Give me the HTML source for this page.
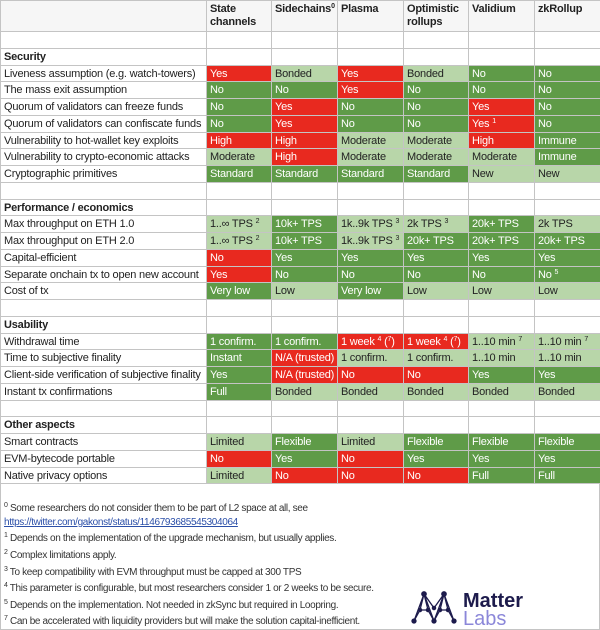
<!DOCTYPE html>
<html><head><meta charset="utf-8"><style>
*{margin:0;padding:0;box-sizing:border-box}
body{width:600px;height:630px;background:#fff;font-family:"Liberation Sans",sans-serif;font-size:11px;color:#222;overflow:hidden;position:relative}
.g{position:absolute;left:0;top:0;display:grid;grid-template-columns:205px 64px 65px 65px 64px 65px 65px;grid-template-rows:30px repeat(27,15.75px);gap:1px;background:#c4c4c4;padding:1px;width:600px}
.g div{background:#fff;padding-left:3px;line-height:16px;white-space:nowrap;overflow:hidden;letter-spacing:-0.2px}
.g .h{background:#f6f6f6;font-weight:bold;line-height:13px;padding-top:2px}
.g .s{font-weight:bold}
.g .d{background:#5f9b48;color:#fff}
.g .l{background:#b8d6a9;color:#222}
.g .r{background:#e8291f;color:#fff}
sup{font-size:7px;vertical-align:baseline;position:relative;top:-4px;line-height:0}
.f{position:absolute;left:0;top:483px;width:600px;height:147px;border:1px solid #c4c4c4;border-top:none}
.f p{position:absolute;left:3px;font-size:10px;letter-spacing:-0.35px;color:#333;white-space:nowrap}
.f a{color:#2b4fa8;text-decoration:underline}
</style></head><body>
<div class="g">
<div class="h"></div><div class="h">State<br>channels</div><div class="h">Sidechains<sup>0</sup></div><div class="h">Plasma</div><div class="h">Optimistic<br>rollups</div><div class="h">Validium</div><div class="h">zkRollup</div>
<div></div><div></div><div></div><div></div><div></div><div></div><div></div>
<div class="s">Security</div><div></div><div></div><div></div><div></div><div></div><div></div>
<div>Liveness assumption (e.g. watch-towers)</div><div class="r">Yes</div><div class="l">Bonded</div><div class="r">Yes</div><div class="l">Bonded</div><div class="d">No</div><div class="d">No</div>
<div>The mass exit assumption</div><div class="d">No</div><div class="d">No</div><div class="r">Yes</div><div class="d">No</div><div class="d">No</div><div class="d">No</div>
<div>Quorum of validators can freeze funds</div><div class="d">No</div><div class="r">Yes</div><div class="d">No</div><div class="d">No</div><div class="r">Yes</div><div class="d">No</div>
<div>Quorum of validators can confiscate funds</div><div class="d">No</div><div class="r">Yes</div><div class="d">No</div><div class="d">No</div><div class="r">Yes <sup>1</sup></div><div class="d">No</div>
<div>Vulnerability to hot-wallet key exploits</div><div class="r">High</div><div class="r">High</div><div class="l">Moderate</div><div class="l">Moderate</div><div class="r">High</div><div class="d">Immune</div>
<div>Vulnerability to crypto-economic attacks</div><div class="l">Moderate</div><div class="r">High</div><div class="l">Moderate</div><div class="l">Moderate</div><div class="l">Moderate</div><div class="d">Immune</div>
<div>Cryptographic primitives</div><div class="d">Standard</div><div class="d">Standard</div><div class="d">Standard</div><div class="d">Standard</div><div class="l">New</div><div class="l">New</div>
<div></div><div></div><div></div><div></div><div></div><div></div><div></div>
<div class="s">Performance / economics</div><div></div><div></div><div></div><div></div><div></div><div></div>
<div>Max throughput on ETH 1.0</div><div class="l">1..∞ TPS <sup>2</sup></div><div class="d">10k+ TPS</div><div class="l">1k..9k TPS <sup>3</sup></div><div class="l">2k TPS <sup>3</sup></div><div class="d">20k+ TPS</div><div class="l">2k TPS</div>
<div>Max throughput on ETH 2.0</div><div class="l">1..∞ TPS <sup>2</sup></div><div class="d">10k+ TPS</div><div class="l">1k..9k TPS <sup>3</sup></div><div class="d">20k+ TPS</div><div class="d">20k+ TPS</div><div class="d">20k+ TPS</div>
<div>Capital-efficient</div><div class="r">No</div><div class="d">Yes</div><div class="d">Yes</div><div class="d">Yes</div><div class="d">Yes</div><div class="d">Yes</div>
<div>Separate onchain tx to open new account</div><div class="r">Yes</div><div class="d">No</div><div class="d">No</div><div class="d">No</div><div class="d">No</div><div class="d">No <sup>5</sup></div>
<div>Cost of tx</div><div class="d">Very low</div><div class="l">Low</div><div class="d">Very low</div><div class="l">Low</div><div class="l">Low</div><div class="l">Low</div>
<div></div><div></div><div></div><div></div><div></div><div></div><div></div>
<div class="s">Usability</div><div></div><div></div><div></div><div></div><div></div><div></div>
<div>Withdrawal time</div><div class="d">1 confirm.</div><div class="d">1 confirm.</div><div class="r">1 week <sup>4</sup> (<sup>7</sup>)</div><div class="r">1 week <sup>4</sup> (<sup>7</sup>)</div><div class="l">1..10 min <sup>7</sup></div><div class="l">1..10 min <sup>7</sup></div>
<div>Time to subjective finality</div><div class="d">Instant</div><div class="r">N/A (trusted)</div><div class="l">1 confirm.</div><div class="l">1 confirm.</div><div class="l">1..10 min</div><div class="l">1..10 min</div>
<div>Client-side verification of subjective finality</div><div class="d">Yes</div><div class="r">N/A (trusted)</div><div class="r">No</div><div class="r">No</div><div class="d">Yes</div><div class="d">Yes</div>
<div>Instant tx confirmations</div><div class="d">Full</div><div class="l">Bonded</div><div class="l">Bonded</div><div class="l">Bonded</div><div class="l">Bonded</div><div class="l">Bonded</div>
<div></div><div></div><div></div><div></div><div></div><div></div><div></div>
<div class="s">Other aspects</div><div></div><div></div><div></div><div></div><div></div><div></div>
<div>Smart contracts</div><div class="l">Limited</div><div class="d">Flexible</div><div class="l">Limited</div><div class="d">Flexible</div><div class="d">Flexible</div><div class="d">Flexible</div>
<div>EVM-bytecode portable</div><div class="r">No</div><div class="d">Yes</div><div class="r">No</div><div class="d">Yes</div><div class="d">Yes</div><div class="d">Yes</div>
<div>Native privacy options</div><div class="l">Limited</div><div class="r">No</div><div class="r">No</div><div class="r">No</div><div class="d">Full</div><div class="d">Full</div>
</div>
<div class="f">
<p style="top:20px"><sup>0</sup> Some researchers do not consider them to be part of L2 space at all, see</p>
<p style="top:34px"><a>https://twitter.com/gakonst/status/1146793685545304064</a></p>
<p style="top:50px"><sup>1</sup> Depends on the implementation of the upgrade mechanism, but usually applies.</p>
<p style="top:67px"><sup>2</sup> Complex limitations apply.</p>
<p style="top:84px"><sup>3</sup> To keep compatibility with EVM throughput must be capped at 300 TPS</p>
<p style="top:100px"><sup>4</sup> This parameter is configurable, but most researchers consider 1 or 2 weeks to be secure.</p>
<p style="top:117px"><sup>5</sup> Depends on the implementation. Not needed in zkSync but required in Loopring.</p>
<p style="top:133px"><sup>7</sup> Can be accelerated with liquidity providers but will make the solution capital-inefficient.</p>
</div>
<svg style="position:absolute;left:410px;top:588px" width="190" height="40">
<g stroke="#1d1b4c" stroke-width="1.3" fill="#1d1b4c">
<path d="M4 33 L14 6 L24 33 M14 6 L10 22 L18 22 L14 6 M10 22 L4 33 M18 22 L24 33 M24 33 L34 6 L44 33 M34 6 L30 22 L38 22 L34 6 M30 22 L24 33 M38 22 L44 33 M14 6 L24 20 L34 6" fill="none"/>
<circle cx="4" cy="33" r="2"/><circle cx="14" cy="6" r="2.2"/><circle cx="24" cy="33" r="2"/><circle cx="34" cy="6" r="2.2"/><circle cx="44" cy="33" r="2"/><circle cx="10" cy="22" r="1.6"/><circle cx="18" cy="22" r="1.6"/><circle cx="30" cy="22" r="1.6"/><circle cx="38" cy="22" r="1.6"/><circle cx="24" cy="20" r="1.6"/>
</g>
<text x="53" y="19" font-family="Liberation Sans" font-weight="bold" font-size="20" fill="#1d1b4c">Matter</text>
<text x="53" y="37" font-family="Liberation Sans" font-size="20" fill="#8b87d9">Labs</text>
</svg>
</body></html>
